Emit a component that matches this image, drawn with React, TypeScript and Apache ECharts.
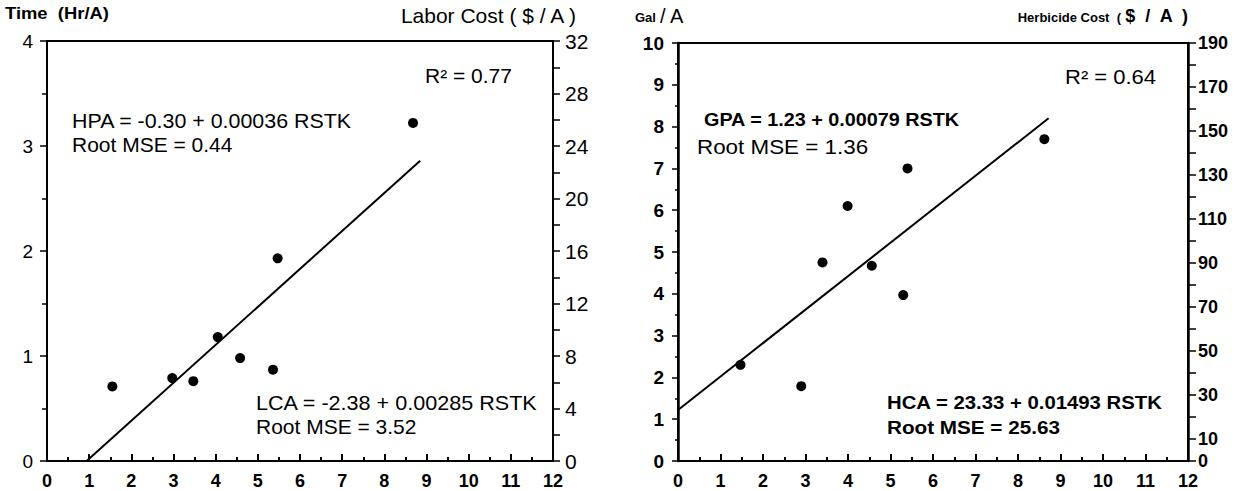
import React, { useEffect, useRef } from "react";
import * as echarts from "echarts";

// RSTK (thousands) vs hours per acre (left panel)
const laborX = [1.55, 2.97, 3.47, 4.05, 4.58, 5.36, 5.47, 8.68];
const laborY = [0.71, 0.79, 0.76, 1.18, 0.98, 0.87, 1.93, 3.22];
const laborFit = [[0.94, 0], [8.85, 2.86]];

// RSTK (thousands) vs gallons per acre (right panel)
const galX = [1.47, 2.9, 3.4, 3.99, 4.56, 5.3, 5.4, 8.62];
const galY = [2.3, 1.79, 4.75, 6.1, 4.67, 3.97, 7.0, 7.7];
const galFit = [[0, 1.22], [8.72, 8.2]];

const xTickLabels = ["0", "1", "2", "3", "4", "5", "6", "7", "8", "9", "10", "11", "12"];
const laborCostLabels = [0, 4, 8, 12, 16, 20, 24, 28, 32];
const herbCostLabels = [0, 10, 30, 50, 70, 90, 110, 130, 150, 170, 190];

const FONT = "'Liberation Sans', Arial, Helvetica, sans-serif";

export default function App() {
  const ref = useRef<HTMLDivElement>(null);
  useEffect(() => {
    if (!ref.current) return;
    const chart = echarts.init(ref.current, null, { renderer: "svg" });
    const black = "#000";
    const txt = (
      x: number,
      y: number,
      text: string,
      fontSize: number,
      opts: { bold?: boolean; align?: string; scaleX?: number } = {}
    ) => ({
      type: "text",
      x,
      y,
      scaleX: opts.scaleX ?? 1,
      style: {
        text,
        fontSize,
        fontWeight: opts.bold ? "bold" : "normal",
        fontFamily: FONT,
        fill: black,
        verticalAlign: "middle",
        align: opts.align ?? "left",
      },
    });
    const xAxisBase = (gridIndex: number) => ({
      type: "value" as const,
      gridIndex,
      min: 0,
      max: 12,
      interval: 1,
      axisLine: { show: true, onZero: false, lineStyle: { color: black, width: 2 } },
      axisTick: { show: true, inside: true, length: 7, lineStyle: { color: black, width: 2 } },
      minorTick: { show: true, splitNumber: 2, length: 4, lineStyle: { color: black, width: 2 } },
      splitLine: { show: false },
      axisLabel: {
        color: black,
        fontSize: 18,
        fontWeight: "bold" as const,
        fontFamily: FONT,
        margin: 11,
        formatter: (v: number) => xTickLabels[Math.round(v)] ?? "",
      },
    });
    const option: any = {
      animation: false,
      backgroundColor: "#fff",
      grid: [
        { left: 47, top: 41, width: 506, height: 420, show: true, borderColor: black, borderWidth: 2, backgroundColor: "transparent" },
        { left: 678, top: 43, width: 510, height: 418, show: true, borderColor: black, borderWidth: 2, backgroundColor: "transparent" },
      ],
      xAxis: [xAxisBase(0), xAxisBase(1)],
      yAxis: [
        {
          type: "value",
          gridIndex: 0,
          min: 0,
          max: 4,
          interval: 1,
          position: "left",
          axisLine: { show: true, onZero: false, lineStyle: { color: black, width: 2 } },
          axisTick: { show: true, length: 7, lineStyle: { color: black, width: 1.5 } },
          minorTick: { show: true, splitNumber: 2, length: 5, lineStyle: { color: black, width: 1.5 } },
          splitLine: { show: false },
          axisLabel: { color: black, fontSize: 19, fontFamily: FONT, margin: 14 },
        },
        {
          type: "value",
          gridIndex: 0,
          min: 0,
          max: 32,
          interval: 2,
          position: "right",
          axisLine: { show: true, onZero: false, lineStyle: { color: black, width: 2 } },
          axisTick: { show: true, length: 7, lineStyle: { color: black, width: 1.5 } },
          splitLine: { show: false },
          axisLabel: {
            color: black,
            fontSize: 21,
            fontFamily: FONT,
            margin: 12,
            formatter: (v: number) => (laborCostLabels.includes(v) ? String(v) : ""),
          },
        },
        {
          type: "value",
          gridIndex: 1,
          min: 0,
          max: 10,
          interval: 1,
          position: "left",
          axisLine: { show: true, onZero: false, lineStyle: { color: black, width: 2.5 } },
          axisTick: { show: true, length: 6, lineStyle: { color: black, width: 1.5 } },
          minorTick: { show: true, splitNumber: 2, length: 3, lineStyle: { color: black, width: 1.5 } },
          splitLine: { show: false },
          axisLabel: { color: black, fontSize: 19, fontWeight: "bold", fontFamily: FONT, margin: 14 },
        },
        {
          type: "value",
          gridIndex: 1,
          min: 0,
          max: 190,
          interval: 10,
          position: "right",
          axisLine: { show: true, onZero: false, lineStyle: { color: black, width: 2.5 } },
          axisTick: { show: true, length: 8, lineStyle: { color: black, width: 1.5 } },
          splitLine: { show: false },
          axisLabel: {
            color: black,
            fontSize: 18,
            fontWeight: "bold",
            fontFamily: FONT,
            margin: 10,
            formatter: (v: number) => (herbCostLabels.includes(v) ? String(v) : ""),
          },
        },
      ],
      series: [
        {
          type: "line",
          xAxisIndex: 0,
          yAxisIndex: 0,
          data: laborFit,
          showSymbol: false,
          lineStyle: { color: black, width: 2 },
          silent: true,
        },
        {
          type: "scatter",
          xAxisIndex: 0,
          yAxisIndex: 0,
          data: laborX.map((x, i) => [x, laborY[i]]),
          symbol: "circle",
          symbolSize: 10,
          itemStyle: { color: black, opacity: 1 },
        },
        {
          type: "line",
          xAxisIndex: 1,
          yAxisIndex: 2,
          data: galFit,
          showSymbol: false,
          lineStyle: { color: black, width: 2 },
          silent: true,
        },
        {
          type: "scatter",
          xAxisIndex: 1,
          yAxisIndex: 2,
          data: galX.map((x, i) => [x, galY[i]]),
          symbol: "circle",
          symbolSize: 10,
          itemStyle: { color: black, opacity: 1 },
        },
      ],
      graphic: [
        // left panel titles
        txt(5, 13, "Time  (Hr/A)", 16, { bold: true, scaleX: 1.15 }),
        txt(576, 15, "Labor Cost ( $ / A )", 21, { align: "right" }),
        // left panel annotations
        txt(425, 76, "R² = 0.77", 20, { scaleX: 1.05 }),
        txt(72, 121, "HPA = -0.30 + 0.00036 RSTK", 20, { scaleX: 1.07 }),
        txt(72, 145, "Root MSE = 0.44", 20, { scaleX: 1.05 }),
        txt(256, 403, "LCA = -2.38 + 0.00285 RSTK", 20, { scaleX: 1.08 }),
        txt(256, 427, "Root MSE = 3.52", 20, { scaleX: 1.05 }),
        // right panel titles
        txt(635, 17, "Gal", 13, { bold: true }),
        txt(660, 16, "/ A", 20),
        txt(1121, 17, "Herbicide Cost  (", 13, { bold: true, align: "right" }),
        txt(1188, 16, "$  /  A  )", 18, { bold: true, align: "right" }),
        // right panel annotations
        txt(1065, 77, "R² = 0.64", 20, { scaleX: 1.1 }),
        txt(704, 120, "GPA = 1.23 + 0.00079 RSTK", 18, { bold: true, scaleX: 1.1 }),
        txt(697, 147, "Root MSE = 1.36", 20, { scaleX: 1.12 }),
        txt(887, 403, "HCA = 23.33 + 0.01493 RSTK", 18, { bold: true, scaleX: 1.13 }),
        txt(887, 428, "Root MSE = 25.63", 18, { bold: true, scaleX: 1.15 }),
      ],
    };
    chart.setOption(option);
    return () => chart.dispose();
  }, []);
  return (
    <div
      ref={ref}
      style={{ position: "fixed", left: 0, top: 0, width: 1253, height: 491, background: "#fff" }}
    />
  );
}
